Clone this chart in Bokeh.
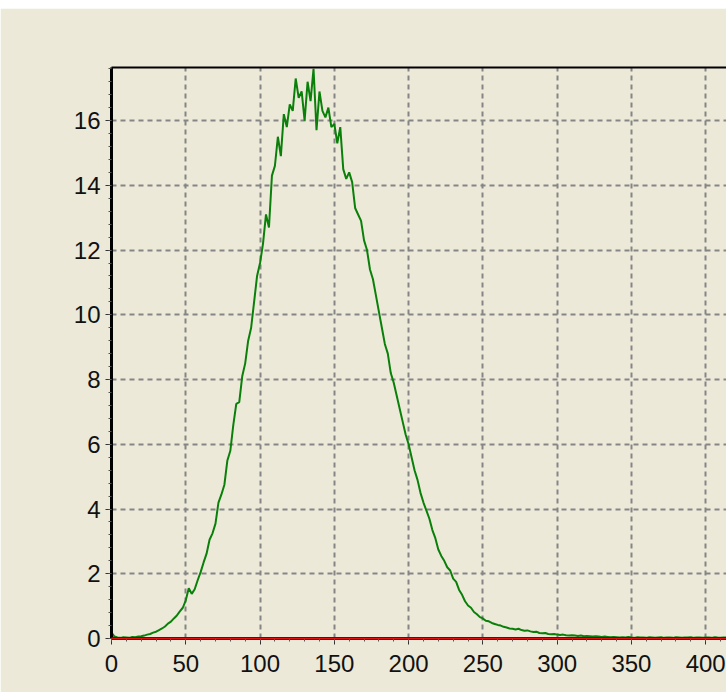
from bokeh.plotting import figure
from bokeh.models import Range1d, SingleIntervalTicker, FixedTicker, LinearAxis, ColumnDataSource, Grid
from bokeh.embed import file_html
from bokeh.resources import INLINE

# ---- data ----
x_start, x_step = 0, 2
green_values = [
    0.18, 0.06, 0.03, 0.02, 0.04, 0.03, 0.02, 0.05, 0.04, 0.06,   # 0-18
    0.07, 0.09, 0.12, 0.14, 0.18, 0.21, 0.26, 0.31, 0.37, 0.46,   # 20-38
    0.52, 0.62, 0.71, 0.84, 0.95, 1.18, 1.55, 1.38, 1.52, 1.80,   # 40-58
    2.05, 2.35, 2.62, 3.05, 3.25, 3.55, 4.20, 4.45, 4.75, 5.50,   # 60-78
    5.80, 6.60, 7.25, 7.30, 8.10, 8.50, 9.20, 9.60, 10.4, 11.2,   # 80-98
    11.6, 12.2, 13.1, 12.7, 14.3, 14.6, 15.5, 14.9, 16.2, 15.8,   # 100-118
    16.5, 16.3, 17.3, 16.7, 16.9, 16.0, 17.2, 16.6, 17.6, 15.7,   # 120-138
    16.9, 16.3, 16.1, 16.4, 15.8, 15.9, 15.3, 15.8, 14.5, 14.2,   # 140-158
    14.4, 14.1, 13.3, 13.1, 12.9, 12.3, 12.0, 11.4, 11.1, 10.6,   # 160-178
    10.1, 9.60, 9.10, 8.80, 8.20, 7.90, 7.50, 7.10, 6.70, 6.30,   # 180-198
    6.00, 5.60, 5.20, 4.90, 4.50, 4.20, 3.95, 3.70, 3.35, 3.10,   # 200-218
    2.75, 2.55, 2.40, 2.20, 2.10, 1.85, 1.75, 1.50, 1.35, 1.15,   # 220-238
    1.02, 0.95, 0.82, 0.75, 0.66, 0.62, 0.55, 0.53, 0.48, 0.45,   # 240-258
    0.42, 0.40, 0.36, 0.34, 0.31, 0.30, 0.28, 0.30, 0.26, 0.24,   # 260-278
    0.25, 0.22, 0.20, 0.21, 0.17, 0.16, 0.17, 0.14, 0.13, 0.14,   # 280-298
    0.12, 0.11, 0.12, 0.10, 0.09, 0.10, 0.09, 0.08, 0.09, 0.07,   # 300-318
    0.08, 0.07, 0.06, 0.07, 0.06, 0.05, 0.06, 0.05, 0.04, 0.05,   # 320-338
    0.04, 0.03, 0.04, 0.03, 0.05, 0.03, 0.02, 0.04, 0.03, 0.03,   # 340-358
    0.02, 0.04, 0.03, 0.02, 0.03, 0.04, 0.02, 0.03, 0.03, 0.02,   # 360-378
    0.04, 0.03, 0.02, 0.03, 0.03, 0.04, 0.02, 0.03, 0.03, 0.02,   # 380-398
    0.03, 0.03, 0.02, 0.04, 0.03, 0.02, 0.03, 0.03,               # 400-414
]
x_values = [x_start + i * x_step for i in range(len(green_values))]
red_values = [0.0] * len(green_values)

x_tick_interval = 50
y_tick_interval = 2
x_limits = (0, 414)
y_limits = (0, 17.64)

BG = "#ECE9D8"

src = ColumnDataSource(dict(x=x_values, g=green_values, r=red_values))

p = figure(width=726, height=684, output_backend="svg", toolbar_location=None,
           x_range=Range1d(*x_limits), y_range=Range1d(*y_limits),
           min_border_left=111, min_border_top=59, min_border_bottom=54,
           min_border_right=0, x_axis_type=None, y_axis_type=None)
p.styles = {"margin-top": "8px"}
p.background_fill_color = BG
p.border_fill_color = BG
p.outline_line_color = None

xaxis = LinearAxis(ticker=SingleIntervalTicker(interval=x_tick_interval, num_minor_ticks=5))
yaxis = LinearAxis(ticker=SingleIntervalTicker(interval=y_tick_interval, num_minor_ticks=5))
for ax in (xaxis, yaxis):
    ax.axis_line_color = "black"
    ax.axis_line_width = 3
    ax.major_tick_line_color = "#333333"
    ax.major_tick_line_width = 1
    ax.major_tick_in = 0
    ax.major_tick_out = 6
    ax.minor_tick_line_color = "#555555"
    ax.minor_tick_line_width = 1
    ax.minor_tick_in = 0
    ax.minor_tick_out = 3
    ax.major_label_text_font = "Liberation Sans"
    ax.major_label_text_font_size = "24px"
    ax.major_label_text_color = "#111111"
xaxis.major_label_standoff = 10
yaxis.major_label_standoff = 5
p.add_layout(xaxis, "below")
p.add_layout(yaxis, "left")

top_axis = LinearAxis(ticker=FixedTicker(ticks=[]),
                      axis_line_color="black", axis_line_width=2,
                      major_tick_line_color=None, minor_tick_line_color=None)
p.add_layout(top_axis, "above")

p.add_layout(Grid(dimension=0, ticker=xaxis.ticker, grid_line_color="#858585",
                  grid_line_width=2, grid_line_dash="5 4"))
p.add_layout(Grid(dimension=1, ticker=yaxis.ticker, grid_line_color="#858585",
                  grid_line_width=2, grid_line_dash="5 4"))

p.line("x", "g", source=src, line_color="#0A800A", line_width=2)
p.line("x", "r", source=src, line_color="#E01010", line_width=2, level="overlay")

open("out.html", "w").write(file_html(p, INLINE))
